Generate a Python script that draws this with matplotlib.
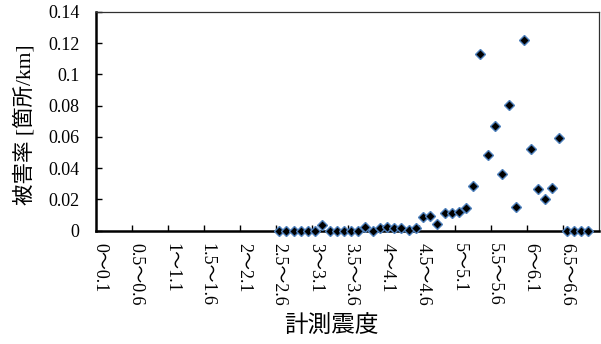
import numpy as np
import matplotlib
matplotlib.use("Agg")
import matplotlib.pyplot as plt

# Damage rate per seismic-intensity bin (0.1 wide, 0~0.1 through 6.9~7.0); None = no data
damage_rate = [
    None, None, None, None, None, None, None, None, None, None,   # 0.0 - 0.9
    None, None, None, None, None, None, None, None, None, None,   # 1.0 - 1.9
    None, None, None, None, None, 0.0, 0.0, 0.0, 0.0, 0.0,        # 2.0 - 2.9
    0.0, 0.0036, 0.0, 0.0, 0.0, 0.0, 0.0, 0.0026, 0.0, 0.0017,    # 3.0 - 3.9
    0.0021, 0.0019, 0.0015, 0.0002, 0.0020, 0.0085, 0.0092, 0.0041, 0.0111, 0.0111,  # 4.0 - 4.9
    0.0117, 0.0145, 0.0288, 0.1133, 0.0483, 0.0670, 0.0365, 0.0803, 0.0154, 0.1219,  # 5.0 - 5.9
    0.0525, 0.0266, 0.0201, 0.0273, 0.0591, 0.0, 0.0, 0.0, 0.0, None,                # 6.0 - 6.9
]

# Labelled bins (every fifth bin)
tick_labels = ["0～0.1", "0.5～0.6", "1～1.1", "1.5～1.6", "2～2.1", "2.5～2.6", "3～3.1",
               "3.5～3.6", "4～4.1", "4.5～4.6", "5～5.1", "5.5～5.6", "6～6.1", "6.5～6.6"]
y_ticks = [0, 0.02, 0.04, 0.06, 0.08, 0.1, 0.12, 0.14]
y_tick_labels = ["0", "0.02", "0.04", "0.06", "0.08", "0.1", "0.12", "0.14"]

plt.rcParams["font.family"] = ["Liberation Serif", "Noto Sans CJK JP", "DejaVu Serif"]
cjk = ["Noto Sans CJK JP", "Liberation Serif", "DejaVu Sans"]

n_bins = len(damage_rate)
x = np.arange(n_bins)
y = np.array([np.nan if v is None else v for v in damage_rate], dtype=float)

W, H = 601, 344
fig = plt.figure(figsize=(W / 100, H / 100), dpi=100)
ax = fig.add_axes([96 / W, 1 - 230.7 / H, (599 - 96) / W, (230.7 - 12) / H])

ax.plot(x, y, linestyle="none", marker="D", markersize=5.5,
        markerfacecolor="black", markeredgecolor="#4f81bd", markeredgewidth=1.0,
        clip_on=False, zorder=5)

ax.set_xlim(-0.5, n_bins - 0.5)
ax.set_ylim(0, 0.14)

# Labels centred on bins, tick marks on bin boundaries every five bins
label_pos = np.arange(0, n_bins, 5)[:len(tick_labels)]
ax.set_xticks(label_pos)
ax.set_xticklabels(tick_labels, rotation=270, fontsize=13, va="top", ha="center")
ax.tick_params(axis="x", which="major", length=0, pad=9)
ax.set_xticks(np.arange(-0.5, n_bins - 0.5, 5)[1:], minor=True)
ax.tick_params(axis="x", which="minor", direction="in", length=4, width=1, color="black")

ax.set_yticks(y_ticks)
ax.set_yticklabels(y_tick_labels, fontsize=13)
ax.tick_params(axis="y", direction="in", length=4, width=1, pad=12)

for side in ("left", "bottom"):
    ax.spines[side].set_linewidth(1.8)
    ax.spines[side].set_color("black")
for side in ("top", "right"):
    ax.spines[side].set_linewidth(0.9)
    ax.spines[side].set_color("#303030")

# Axis titles placed in figure pixels
fig.text(25 / W, 1 - 125 / H, "被害率 [箇所/km]", rotation=90, fontsize=15.5,
         ha="center", va="center")
fig.text(331 / W, 1 - 326 / H, "計測震度", fontfamily=cjk, fontsize=17,
         ha="center", va="center")

fig.savefig("out.png", dpi=100)
